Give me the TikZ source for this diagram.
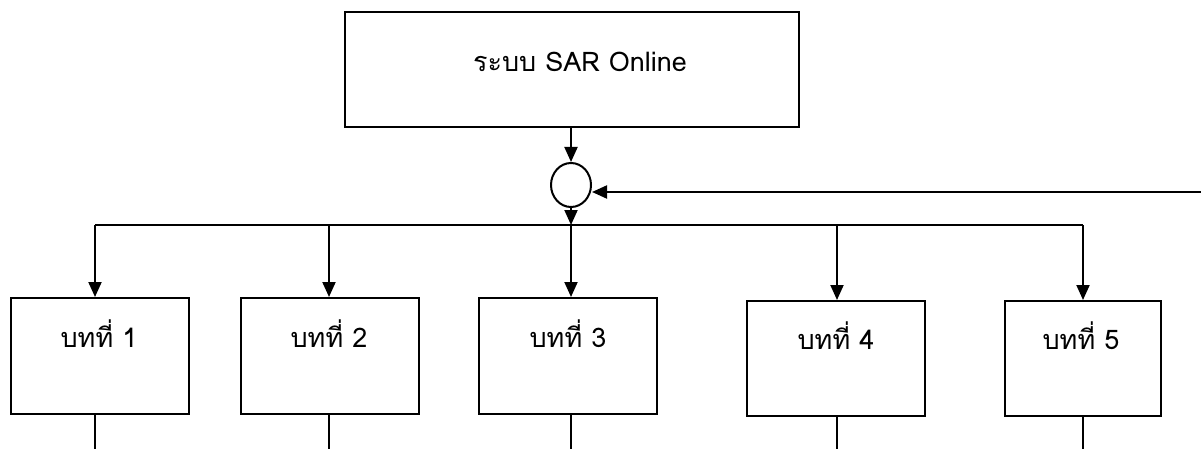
\documentclass[tikz,border=0pt]{standalone}
\usepackage{fontspec}
\setmainfont[Script=Thai]{Loma}
\usetikzlibrary{arrows.meta,shapes.geometric}
\begin{document}
\begin{tikzpicture}[x=1pt,y=-1pt,
  lw/.style={line width=2pt},
  box/.style={draw,lw,rectangle,inner sep=0pt},
  txt/.style={anchor=base,inner sep=0pt,font=\fontsize{27}{32}\selectfont},
  arr/.style={lw,-{Triangle[length=15pt,width=13pt]}},
  ln/.style={lw}]
\useasboundingbox (0,0) rectangle (1201,449);
% top box
\node[box,minimum width=454pt,minimum height=115pt] (top) at (572,69.5) {};
\node[txt] (toptxt) at (580,72) {ระบบ SAR Online};
% circle
\node[draw,lw,ellipse,minimum width=40pt,minimum height=44pt,inner sep=0pt] (circ) at (571,185) {};
\coordinate (rin) at (1201,192);
\coordinate (bus) at (571,225);
% chapter boxes
\node[box,minimum width=178pt,minimum height=116pt] (b1) at (100,356) {};
\node[box,minimum width=178pt,minimum height=116pt] (b2) at (330,356) {};
\node[box,minimum width=178pt,minimum height=116pt] (b3) at (568,356) {};
\node[box,minimum width=178pt,minimum height=115pt] (b4) at (836,358.5) {};
\node[box,minimum width=156pt,minimum height=115pt] (b5) at (1083,358.5) {};
\node[txt] (t1txt) at (99,347) {บทที่ 1};
\node[txt] (t2txt) at (329,347) {บทที่ 2};
\node[txt] (t3txt) at (568,347) {บทที่ 3};
\node[txt] (t4txt) at (836,349) {บทที่ 4};
\node[txt] (t5txt) at (1081,349) {บทที่ 5};
% tap coordinates on the bus
\coordinate (k1) at (95,225);
\coordinate (k2) at (329,225);
\coordinate (k3) at (571,225);
\coordinate (k4) at (837,225);
\coordinate (k5) at (1083,225);
\coordinate (bot) at (0,449);
% connectors
\draw[arr] (top.south -| circ.north) -- (circ.north);
\draw[arr] (rin) -- (rin -| circ.east);
\draw[arr] (circ.south) -- (bus);
\draw[ln] (k1) -- (k5);
\foreach \i in {1,...,5}{
  \draw[arr] (k\i) -- (k\i |- b\i.north);
  \draw[ln] (k\i |- b\i.south) -- (k\i |- bot);
}
\end{tikzpicture}
\end{document}
